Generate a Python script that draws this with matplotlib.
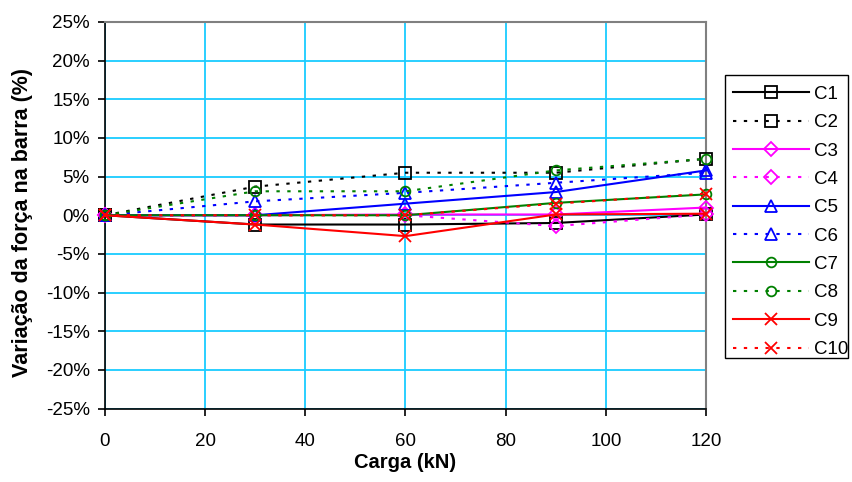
import matplotlib
matplotlib.use("Agg")
import matplotlib.pyplot as plt
from matplotlib.patches import Rectangle
from matplotlib.ticker import PercentFormatter, MultipleLocator

plt.rcParams["font.family"] = ["Liberation Sans", "DejaVu Sans"]
plt.rcParams["axes.unicode_minus"] = False

# Load steps (kN)
carga = [0, 30, 60, 90, 120]

# Variation of bar force (%) per case
c1 = [0.0, -1.2, -1.2, -1.0, 0.1]
c2 = [0.0, 3.7, 5.5, 5.5, 7.3]
c3 = [0.0, 0.0, 0.1, 0.1, 1.0]
c4 = [0.0, 0.0, 0.0, -1.4, 0.1]
c5 = [0.0, 0.0, 1.5, 3.0, 5.8]
c6 = [0.0, 1.8, 2.9, 4.2, 5.5]
c7 = [0.0, 0.0, 0.0, 1.6, 2.7]
c8 = [0.0, 3.1, 3.1, 5.8, 7.3]
c9 = [0.0, -1.2, -2.7, 0.1, 0.2]
c10 = [0.0, 0.0, 0.0, 1.5, 2.8]

labels = ["C1", "C2", "C3", "C4", "C5", "C6", "C7", "C8", "C9", "C10"]
values = [c1, c2, c3, c4, c5, c6, c7, c8, c9, c10]

colors = ["black", "black", "#FF00FF", "#FF00FF", "#0000FF", "#0000FF",
          "#008000", "#008000", "#FF0000", "#FF0000"]
markers = ["s", "s", "D", "D", "^", "^", "o", "o", "x", "x"]
msizes = [8, 8, 7, 7, 8, 8, 7, 7, 9, 9]
dotted = (0, (1.6, 3.6))
styles = ["-", dotted] * 5

W, H = 853, 482
fig = plt.figure(figsize=(W / 100, H / 100), dpi=100)
ax = fig.add_axes([105 / W, (H - 408.5) / H, 601 / W, 386.5 / H])

handles = []
for lab, val, col, mk, ms, ls in zip(labels, values, colors, markers, msizes, styles):
    (h,) = ax.plot(carga, val, color=col, linestyle=ls, linewidth=1.5,
                   marker=mk, markersize=ms, markerfacecolor="none",
                   markeredgecolor=col, markeredgewidth=1.3, label=lab,
                   clip_on=False, zorder=3)
    handles.append(h)

ax.set_xlim(0, 120)
ax.set_ylim(-25, 25)
ax.xaxis.set_major_locator(MultipleLocator(20))
ax.yaxis.set_major_locator(MultipleLocator(5))
ax.yaxis.set_major_formatter(PercentFormatter(decimals=0))

ax.grid(True, color="#19CCFF", linewidth=1.3, zorder=0)
ax.set_axisbelow(True)

for side in ("top", "right"):
    ax.spines[side].set_color("#808080")
    ax.spines[side].set_linewidth(1.5)
for side in ("left", "bottom"):
    ax.spines[side].set_color("black")
    ax.spines[side].set_linewidth(1.2)

ax.tick_params(axis="both", direction="out", length=5, width=1.2,
               labelsize=13.5, colors="black")
ax.tick_params(axis="y", pad=6)
ax.tick_params(axis="x", pad=12.5)

ax.set_xlabel("Carga (kN)", fontsize=14.5, fontweight="bold", labelpad=2.5)
ax.set_ylabel("Variação da força na barra (%)", fontsize=15.5,
              fontweight="bold")
ax.yaxis.set_label_coords((33 - 105) / 601, (408.5 - 222.5) / 386.5)

# Legend entries without the default frame; the box is drawn separately
leg = fig.legend(handles=handles, loc="upper left",
                 bbox_to_anchor=(727 / W, 1 - 80 / H),
                 borderaxespad=0, fontsize=13.5, handlelength=4.1,
                 handletextpad=0.25, labelspacing=0.6, borderpad=0.3,
                 frameon=False)
fig.add_artist(Rectangle((725 / W, 1 - 358 / H), 123 / W, 283 / H,
                         transform=fig.transFigure, facecolor="none",
                         edgecolor="black", linewidth=1.0))

fig.savefig("out.png", dpi=100)
